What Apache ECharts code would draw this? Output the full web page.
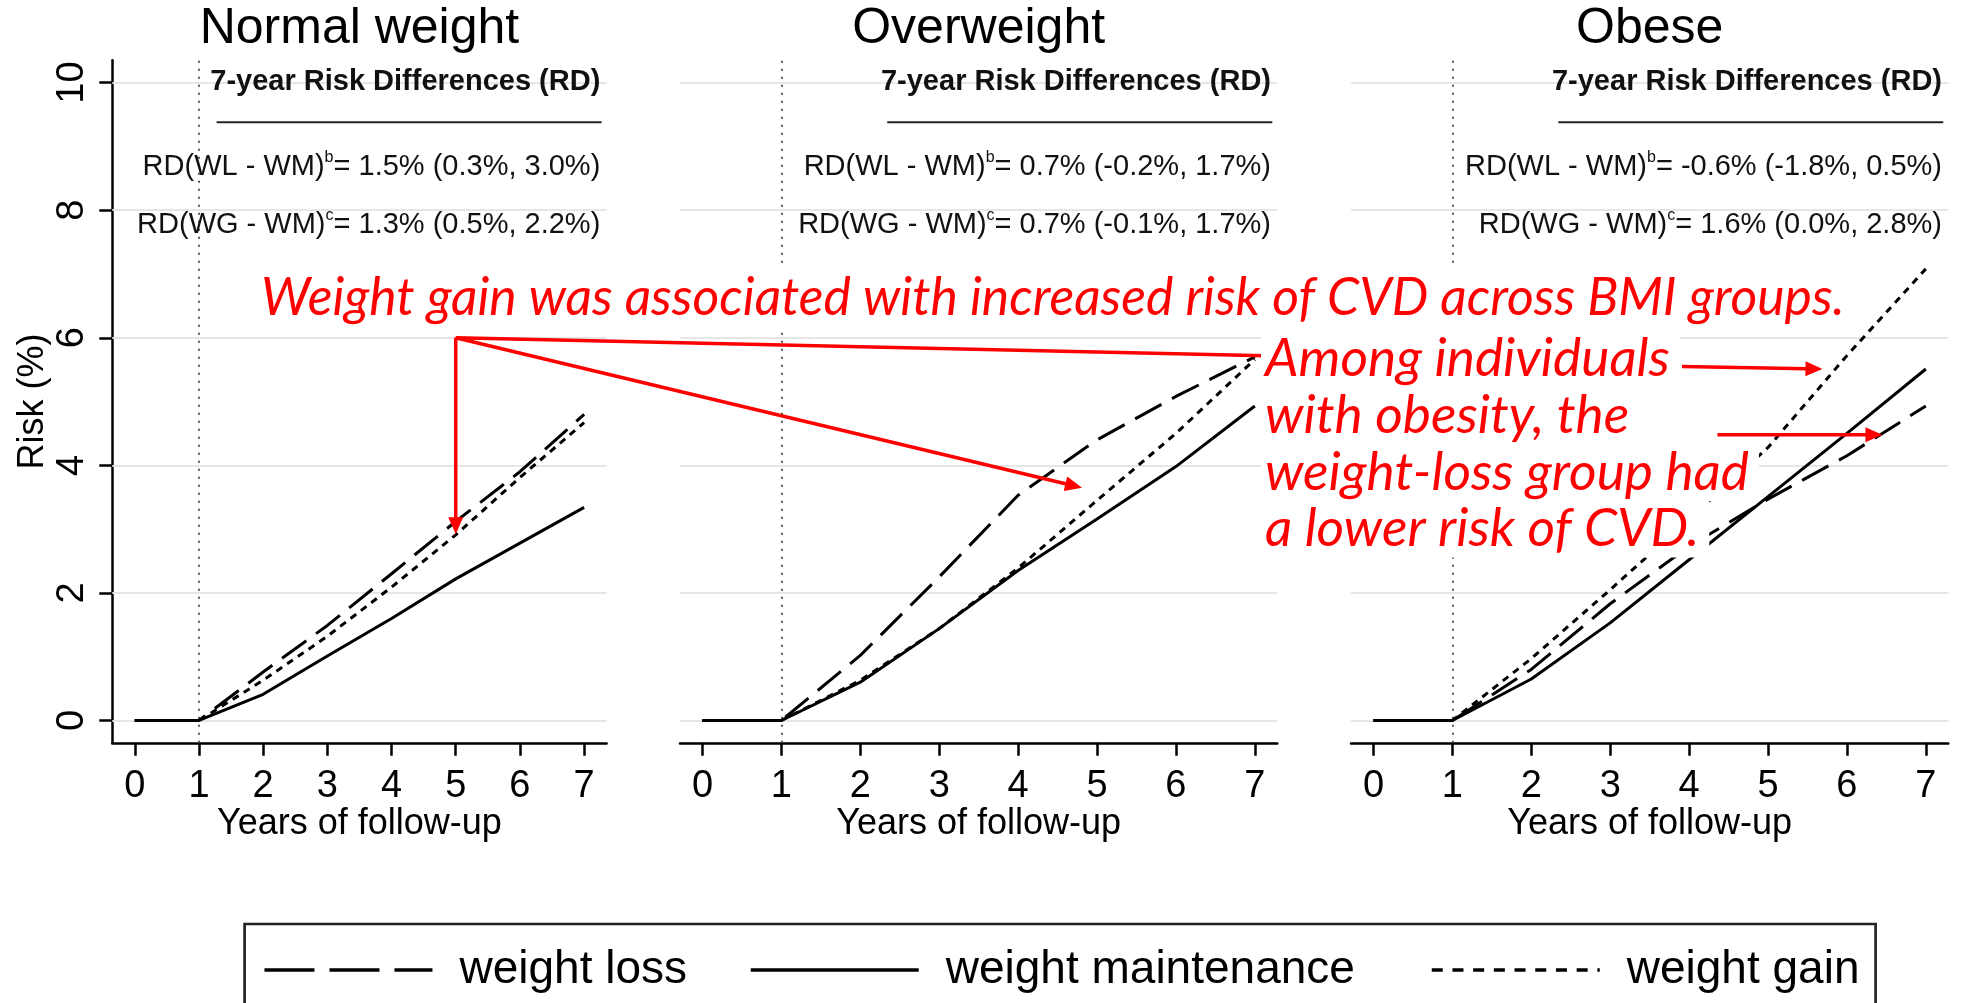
<!DOCTYPE html>
<html><head><meta charset="utf-8">
<script src="https://cdn.jsdelivr.net/npm/echarts@6/dist/echarts.min.js"></script>
<style>html,body{margin:0;padding:0;background:#fff;}#chart{width:1967px;height:1003px;}</style>
</head><body><div id="chart"></div>
<script>
// ---------------- data ----------------
const years = [0, 1, 2, 3, 4, 5, 6, 7];
const yTicks = [0, 2, 4, 6, 8, 10];
const panelTitles = ['Normal weight', 'Overweight', 'Obese'];
const legendNames = ['weight loss', 'weight maintenance', 'weight gain'];

const normalLoss  = [0, 0, 0.76, 1.49, 2.30, 3.12, 3.90, 4.80];
const normalMaint = [0, 0, 0.41, 1.01, 1.60, 2.22, 2.78, 3.34];
const normalGain  = [0, 0, 0.63, 1.32, 2.09, 2.91, 3.81, 4.67];

const overLoss  = [0, 0, 1.02, 2.25, 3.53, 4.40, 5.08, 5.70];
const overMaint = [0, 0, 0.60, 1.44, 2.35, 3.16, 3.98, 4.93];
const overGain  = [0, 0, 0.63, 1.44, 2.39, 3.45, 4.50, 5.66];

const obeseLoss  = [0, 0, 0.80, 1.83, 2.73, 3.47, 4.15, 4.93];
const obeseMaint = [0, 0, 0.65, 1.53, 2.52, 3.51, 4.50, 5.51];
const obeseGain  = [0, 0, 0.97, 2.05, 3.16, 4.28, 5.72, 7.08];

const rdHeader = '7-year Risk Differences (RD)';
const rdWL = ['1.5% (0.3%, 3.0%)', '0.7% (-0.2%, 1.7%)', '-0.6% (-1.8%, 0.5%)'];
const rdWG = ['1.3% (0.5%, 2.2%)', '0.7% (-0.1%, 1.7%)', '1.6% (0.0%, 2.8%)'];

const noteMain = 'Weight gain was associated with increased risk of CVD across BMI groups.';
const noteObese = ['Among individuals', 'with obesity, the', 'weight-loss group had', 'a lower risk of CVD.'];

// ---------------- layout / style ----------------
const FONT = '"Liberation Sans", Arial, Helvetica, sans-serif';
const RED_FONT = 'Lato, "Open Sans", sans-serif';
const RED = '#ff0000';
const panelData = [
  [normalLoss, normalMaint, normalGain],
  [overLoss, overMaint, overGain],
  [obeseLoss, obeseMaint, obeseGain]
];
const grids = [
  { left: 112.3, top: 60.3, width: 494.3, height: 682.5, xmin: -0.35,  xmax: 7.35 },
  { left: 680,   top: 60.3, width: 597.3, height: 682.5, xmin: -0.285, xmax: 7.285 },
  { left: 1351,  top: 60.3, width: 597.3, height: 682.5, xmin: -0.285, xmax: 7.285 }
];
const lineStyles = [
  { color: '#000', width: 3, type: [30, 12] },
  { color: '#000', width: 3, type: 'solid' },
  { color: '#000', width: 3, type: [7, 6] }
];
const legendLineTypes = [[50, 15], 'solid', [11, 9.7]];
const legendLefts = [262.7, 749, 1430];

const chart = echarts.init(document.getElementById('chart'), null, { renderer: 'canvas' });

const xAxis = grids.map((g, i) => ({
  type: 'value', gridIndex: i, min: g.xmin, max: g.xmax,
  axisLine: { show: true, onZero: false, lineStyle: { color: '#000', width: 2.5 } },
  axisTick: { show: true, length: 13, customValues: years, lineStyle: { color: '#000', width: 2.5 } },
  axisLabel: { show: true, customValues: years, fontSize: 38, color: '#000', fontFamily: FONT, margin: 25 },
  splitLine: { show: false },
  name: 'Years of follow-up', nameLocation: 'middle', nameGap: 63, nameMoveOverlap: false,
  nameTextStyle: { fontSize: 36, color: '#000', fontFamily: FONT }
}));
const yAxis = grids.map((g, i) => i === 0 ? ({
  type: 'value', gridIndex: i, min: -0.35, max: 10.35,
  axisLine: { show: true, onZero: false, lineStyle: { color: '#000', width: 2.5 } },
  axisTick: { show: true, length: 13, customValues: yTicks, lineStyle: { color: '#000', width: 2.5 } },
  axisLabel: { show: true, customValues: yTicks, rotate: 90, fontSize: 38, color: '#000', fontFamily: FONT, margin: 21 },
  splitLine: { show: false },
  name: 'Risk (%)', nameLocation: 'middle', nameRotate: 90, nameGap: 61,
  nameTextStyle: { fontSize: 36, color: '#000', fontFamily: FONT }
}) : ({
  type: 'value', gridIndex: i, min: -0.35, max: 10.35, show: false,
  splitLine: { show: false }
}));

const series = [];
grids.forEach((g, p) => {
  series.push({
    type: 'line', name: 'helper' + p, xAxisIndex: p, yAxisIndex: p, data: [], silent: true, z: 1,
    markLine: {
      silent: true, z: 1, symbol: ['none', 'none'], animation: false,
      label: { show: false }, emphasis: { disabled: true },
      lineStyle: { color: '#e6e6e6', width: 2, type: 'solid' },
      data: yTicks.map(v => ({ yAxis: v })).concat([
        { xAxis: 1, lineStyle: { color: '#555', width: 2, type: [2, 6] } }
      ])
    }
  });
  panelData[p].forEach((arr, k) => {
    series.push({
      type: 'line', name: legendNames[k], xAxisIndex: p, yAxisIndex: p,
      data: years.map((x, i) => [x, arr[i]]),
      symbol: 'none', showSymbol: false, smooth: false, z: 3,
      lineStyle: lineStyles[k], itemStyle: { color: '#000' },
      emphasis: { disabled: true }
    });
  });
});

const legend = legendNames.map((n, k) => ({
  data: [n], left: legendLefts[k], top: 947, padding: 0, orient: 'horizontal',
  itemWidth: 168, itemHeight: 20, selectedMode: false,
  textStyle: { fontSize: 46, color: '#000', fontFamily: FONT, padding: [0, 0, 0, 22] },
  lineStyle: { color: '#000', width: 3.5, type: legendLineTypes[k], cap: 'butt' },
  itemStyle: { color: 'rgba(0,0,0,0)', borderColor: 'rgba(0,0,0,0)', borderWidth: 0, opacity: 0 }
}));

chart.setOption({
  animation: false,
  backgroundColor: '#fff',
  grid: grids.map(g => ({ left: g.left, top: g.top, width: g.width, height: g.height, containLabel: false })),
  xAxis, yAxis, series, legend
});

// ---------------- annotations (anchored in data space) ----------------
const px = (g, x, y) => chart.convertToPixel({ gridIndex: g }, [x, y]);
const els = [];

function arrow(p0, p1, withHead, z) {
  const dx = p1[0] - p0[0], dy = p1[1] - p0[1];
  const L = Math.hypot(dx, dy), ux = dx / L, uy = dy / L;
  const HL = 17, HW = 7.5;
  const base = withHead ? [p1[0] - ux * HL, p1[1] - uy * HL] : p1;
  els.push({ type: 'line', z: z, shape: { x1: p0[0], y1: p0[1], x2: base[0] + ux, y2: base[1] + uy },
             style: { stroke: RED, lineWidth: 3.5 } });
  if (withHead) {
    els.push({ type: 'polygon', z: z, shape: { points: [p1, [base[0] - uy * HW, base[1] + ux * HW], [base[0] + uy * HW, base[1] - ux * HW]] },
               style: { fill: RED } });
  }
}

grids.forEach((g, p) => {
  els.push({ type: 'text', z: 50, x: g.left + g.width / 2, y: 28.8,
    style: { text: panelTitles[p], fontSize: 50, fontFamily: FONT, fill: '#000', align: 'center', verticalAlign: 'middle' } });
  const right = g.left + g.width - 6.3;
  els.push({ type: 'text', z: 50, x: right, y: 81.5,
    style: { text: rdHeader, fontSize: 29, fontWeight: 'bold', fontFamily: FONT, fill: '#111', align: 'right', verticalAlign: 'middle' } });
  els.push({ type: 'line', z: 50, shape: { x1: right + 1.3 - 385, y1: 122.3, x2: right + 1.3, y2: 122.3 },
    style: { stroke: '#222', lineWidth: 2 } });
  const rich = {
    a: { fontSize: 29, fontFamily: FONT, fill: '#111', lineHeight: 34 },
    s: { fontSize: 16, fontFamily: FONT, fill: '#111', lineHeight: 8, verticalAlign: 'top' }
  };
  els.push({ type: 'text', z: 50, x: right, y: 167,
    style: { text: '{a|RD(WL - WM)}{s|b}{a|= ' + rdWL[p] + '}', rich, align: 'right', verticalAlign: 'middle' } });
  els.push({ type: 'text', z: 50, x: right, y: 224.5,
    style: { text: '{a|RD(WG - WM)}{s|c}{a|= ' + rdWG[p] + '}', rich, align: 'right', verticalAlign: 'middle' } });
});

function fitSize(text, target) {
  const c = document.createElement('canvas').getContext('2d');
  c.font = 'italic 100px ' + RED_FONT;
  return 100 * target / c.measureText(text).width;
}
const fsMain = fitSize(noteMain, 1584);
const fsObese = fitSize(noteObese[2], 484);

els.push({ type: 'text', z: 100, x: 257, y: 298,
  style: { text: noteMain, fontSize: fsMain, fontStyle: 'italic', fontFamily: RED_FONT, fill: RED,
           align: 'left', verticalAlign: 'middle', lineHeight: 62, backgroundColor: '#fff', padding: [0, 6, 0, 4] } });
const obeseY = [358.5, 415.5, 472.5, 529];
noteObese.forEach((t, i) => {
  els.push({ type: 'text', z: 100, x: 1261, y: obeseY[i],
    style: { text: t, fontSize: fsObese, fontStyle: 'italic', fontFamily: RED_FONT, fill: RED,
             align: 'left', verticalAlign: 'middle', lineHeight: 57, backgroundColor: '#fff', padding: [0, 10, 0, 4] } });
});

const origin = px(0, 5.0, 6.0);
arrow(origin, px(0, 5.0, 2.92), true, 120);
arrow(origin, px(1, 4.81, 3.65), true, 120);
arrow(origin, px(1, 7.12, 5.72), false, 90);
arrow(px(2, 3.91, 5.55), px(2, 5.69, 5.51), true, 120);
arrow(px(2, 4.36, 4.48), px(2, 6.45, 4.48), true, 120);

els.push({ type: 'rect', z: 10, shape: { x: 244.6, y: 924, width: 1631, height: 150 },
  style: { fill: 'none', stroke: '#222', lineWidth: 2.7 } });

chart.setOption({ graphic: { elements: els } });
</script>
</body></html>
